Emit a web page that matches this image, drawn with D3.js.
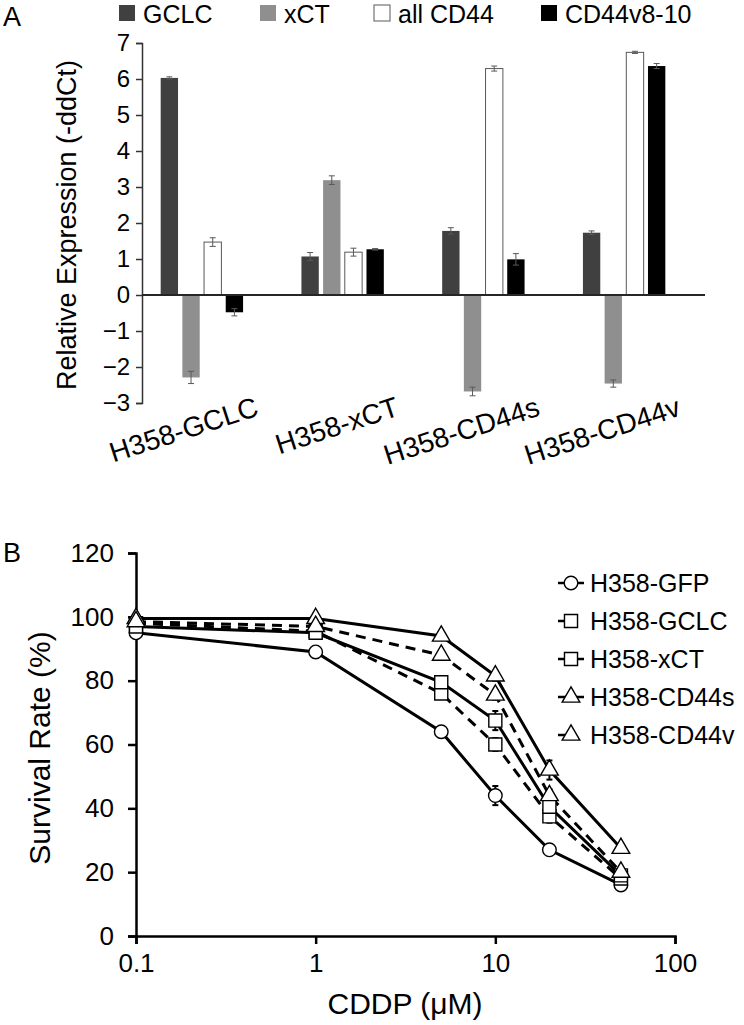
<!DOCTYPE html>
<html><head><meta charset="utf-8">
<script src="https://cdn.jsdelivr.net/npm/d3@7"></script>
<style>
body{margin:0;background:#fff}
svg{display:block}
text{font-family:"Liberation Sans",Arial,sans-serif;fill:#000}
</style>
</head><body>
<svg id="c" width="744" height="1025"></svg>
<script>
// ---------- Panel A data ----------
const cellLines = ["H358-GCLC","H358-xCT","H358-CD44s","H358-CD44v"];
const genes = ["GCLC","xCT","all CD44","CD44v8-10"];
const gclcVals   = [6.03, 1.07, 1.78, 1.73];
const gclcErr    = [0.03, 0.11, 0.09, 0.05];
const xctVals    = [-2.29, 3.19, -2.68, -2.46];
const xctErr     = [0.17, 0.12, 0.12, 0.10];
const allCd44Vals= [1.47, 1.19, 6.29, 6.74];
const allCd44Err = [0.12, 0.11, 0.07, 0.03];
const cd44vVals  = [-0.48, 1.27, 0.99, 6.36];
const cd44vErr   = [0.10, 0.02, 0.16, 0.07];
const yTicksA = [-3,-2,-1,0,1,2,3,4,5,6,7];

// ---------- Panel B data ----------
const doses = [0.1, 1, 5, 10, 20, 50];
const seriesNames = ["H358-GFP","H358-GCLC","H358-xCT","H358-CD44s","H358-CD44v"];
const gfpSurv   = [95, 89, 64, 44, 27, 16];
const gfpErr    = [1, 1, 1, 3, 1, 1];
const gclcSurv  = [98, 95.5, 76, 60, 37.5, 18];
const gclcSErr  = [1, 1, 1.5, 2, 2, 1];
const xctSurv   = [97, 95, 79.5, 67.5, 40.5, 19];
const xctSErr   = [1, 1, 1.5, 3, 2, 1];
const cd44sSurv = [99.5, 99.5, 94, 81.5, 52, 27.5];
const cd44sErr  = [1, 1, 1, 1.5, 3, 1];
const cd44vSurv = [98.5, 97, 88, 75.5, 44, 20];
const cd44vSErr = [1, 1, 1, 1.5, 2, 1];
const xTicksB = [0.1, 1, 10, 100];
const yTicksB = [0,20,40,60,80,100,120];

const svg = d3.select("#c");
const FONT = '"Liberation Sans",Arial,sans-serif';

// ================= Panel A =================
const A = svg.append("g");
const yA = d3.scaleLinear().domain([-3,7]).range([403,43]);
const xA = d3.scaleBand().domain(cellLines).range([131.5,694.5]);
const xSub = d3.scaleBand().domain(genes).range([-41.2,41.2]).paddingInner(0.2);
const fills = {"GCLC":"#404040","xCT":"#8f8f8f","all CD44":"#ffffff","CD44v8-10":"#000000"};
const vals = {"GCLC":gclcVals,"xCT":xctVals,"all CD44":allCd44Vals,"CD44v8-10":cd44vVals};
const errs = {"GCLC":gclcErr,"xCT":xctErr,"all CD44":allCd44Err,"CD44v8-10":cd44vErr};

const axisAx = 142;
A.append("g").attr("transform",`translate(${axisAx},0)`)
  .call(d3.axisLeft(yA).tickValues(yTicksA).tickSize(6).tickPadding(6).tickFormat(d3.format("d")))
  .call(g=>{g.select(".domain").attr("stroke","#333").attr("stroke-width",1.5);
    g.selectAll(".tick line").attr("stroke","#333").attr("stroke-width",1.5);
    g.selectAll("text").style("font-family",FONT).style("font-size","24px").attr("fill","#000");});

const barData = [];
cellLines.forEach((c,i)=>genes.forEach(gn=>barData.push({c,gn,v:vals[gn][i],e:errs[gn][i]})));
A.append("g").selectAll("rect").data(barData).join("rect")
  .attr("x",d=>xA(d.c)+xA.bandwidth()/2+xSub(d.gn))
  .attr("width",xSub.bandwidth())
  .attr("y",d=>yA(Math.max(0,d.v)))
  .attr("height",d=>Math.abs(yA(d.v)-yA(0)))
  .attr("fill",d=>fills[d.gn])
  .attr("stroke",d=>d.gn==="all CD44"?"#595959":"none")
  .attr("stroke-width",1);

// zero line
A.append("line").attr("x1",axisAx).attr("x2",705).attr("y1",yA(0)).attr("y2",yA(0))
  .attr("stroke","#262626").attr("stroke-width",2);

// error bars
const eb = A.append("g").attr("stroke","#595959").attr("stroke-width",1);
barData.forEach(d=>{
  const cx = xA(d.c)+xA.bandwidth()/2+xSub(d.gn)+xSub.bandwidth()/2;
  const y1=yA(d.v-d.e), y2=yA(d.v+d.e);
  eb.append("line").attr("x1",cx).attr("x2",cx).attr("y1",y1).attr("y2",y2);
  eb.append("line").attr("x1",cx-3).attr("x2",cx+3).attr("y1",y1).attr("y2",y1);
  eb.append("line").attr("x1",cx-3).attr("x2",cx+3).attr("y1",y2).attr("y2",y2);
});

// category labels
A.append("g").selectAll("text").data(cellLines).join("text")
  .attr("transform",d=>`translate(${xA(d)+xA.bandwidth()/2+58},415) rotate(-18)`)
  .attr("text-anchor","end").style("font-size","28px").text(d=>d);

// y title
A.append("text").attr("transform","translate(76,225) rotate(-90)")
  .attr("text-anchor","middle").style("font-size","27px").text("Relative Expression (-ddCt)");

// legend A
const legA = [{gn:"GCLC",x:119},{gn:"xCT",x:260},{gn:"all CD44",x:374},{gn:"CD44v8-10",x:541}];
legA.forEach(l=>{
  A.append("rect").attr("x",l.x).attr("y",5).attr("width",16).attr("height",16)
   .attr("fill",fills[l.gn]).attr("stroke",l.gn==="all CD44"?"#595959":"none");
  A.append("text").attr("x",l.x+24).attr("y",23).style("font-size","25px").text(l.gn);
});
svg.append("text").attr("x",3).attr("y",26).style("font-size","27px").text("A");

// ================= Panel B =================
const B = svg.append("g");
const xB = d3.scaleLog().domain([0.1,100]).range([136,675]);
const yB = d3.scaleLinear().domain([0,120]).range([936,553]);

B.append("g").attr("transform","translate(0,936)")
  .call(d3.axisBottom(xB).tickValues(xTicksB).tickSize(8).tickPadding(10).tickFormat(d=>String(d)))
  .call(g=>{g.select(".domain").attr("stroke","#000").attr("stroke-width",2.5);
    g.selectAll(".tick line").attr("stroke","#000").attr("stroke-width",2.5);
    g.selectAll("text").style("font-family",FONT).style("font-size","26px").attr("fill","#000");});
B.append("g").attr("transform","translate(136,0)")
  .call(d3.axisLeft(yB).tickValues(yTicksB).tickSize(8).tickPadding(14))
  .call(g=>{g.select(".domain").attr("stroke","#000").attr("stroke-width",2.5);
    g.selectAll(".tick line").attr("stroke","#000").attr("stroke-width",2.5);
    g.selectAll("text").style("font-family",FONT).style("font-size","26px").attr("fill","#000");});

const series = [
  {name:"H358-GFP",  v:gfpSurv,  e:gfpErr,   shape:"circle",   dash:null},
  {name:"H358-GCLC", v:gclcSurv, e:gclcSErr, shape:"square",   dash:"10,7"},
  {name:"H358-xCT",  v:xctSurv,  e:xctSErr,  shape:"square",   dash:null},
  {name:"H358-CD44s",v:cd44sSurv,e:cd44sErr, shape:"triangle", dash:null},
  {name:"H358-CD44v",v:cd44vSurv,e:cd44vSErr,shape:"triangle", dash:"10,7"}
];
const line = d3.line().x(d=>xB(d[0])).y(d=>yB(d[1]));
const symMap = {circle:d3.symbol().type(d3.symbolCircle).size(145),
  square:d3.symbol().type(d3.symbolSquare).size(170),
  triangle:d3.symbol().type(d3.symbolTriangle).size(135)};

series.forEach(s=>{
  const pts = doses.map((d,i)=>[d,s.v[i],s.e[i]]);
  B.append("path").datum(pts).attr("d",line).attr("fill","none")
   .attr("stroke","#000").attr("stroke-width",3)
   .attr("stroke-dasharray",s.dash);
  const g = B.append("g").attr("stroke","#000").attr("stroke-width",2);
  pts.forEach(p=>{
    const cx=xB(p[0]);
    g.append("line").attr("x1",cx).attr("x2",cx).attr("y1",yB(p[1]-p[2])).attr("y2",yB(p[1]+p[2]));
    g.append("line").attr("x1",cx-3).attr("x2",cx+3).attr("y1",yB(p[1]-p[2])).attr("y2",yB(p[1]-p[2]));
    g.append("line").attr("x1",cx-3).attr("x2",cx+3).attr("y1",yB(p[1]+p[2])).attr("y2",yB(p[1]+p[2]));
  });
});
series.forEach(s=>{
  B.append("g").selectAll("path").data(doses.map((d,i)=>[d,s.v[i]])).join("path")
   .attr("transform",p=>`translate(${xB(p[0])},${yB(p[1])})`)
   .attr("d",symMap[s.shape]()).attr("fill","#fff").attr("stroke","#000").attr("stroke-width",1.4);
});

// legend B
series.forEach((s,i)=>{
  const cy = 583 + i*38;
  B.append("line").attr("x1",558).attr("x2",584).attr("y1",cy).attr("y2",cy)
   .attr("stroke","#000").attr("stroke-width",2.5).attr("stroke-dasharray",s.dash?"7,30":null);
  B.append("path").attr("transform",`translate(571,${cy})`).attr("d",symMap[s.shape]())
   .attr("fill","#fff").attr("stroke","#000").attr("stroke-width",1.4);
  B.append("text").attr("x",590).attr("y",cy+9).style("font-size","25px").text(s.name);
});

B.append("text").attr("transform","translate(50,748) rotate(-90)").attr("text-anchor","middle")
  .style("font-size","30px").text("Survival Rate (%)");
B.append("text").attr("x",405).attr("y",1014).attr("text-anchor","middle")
  .style("font-size","30px").text("CDDP (μM)");
svg.append("text").attr("x",3).attr("y",562).style("font-size","27px").text("B");
</script>
</body></html>
